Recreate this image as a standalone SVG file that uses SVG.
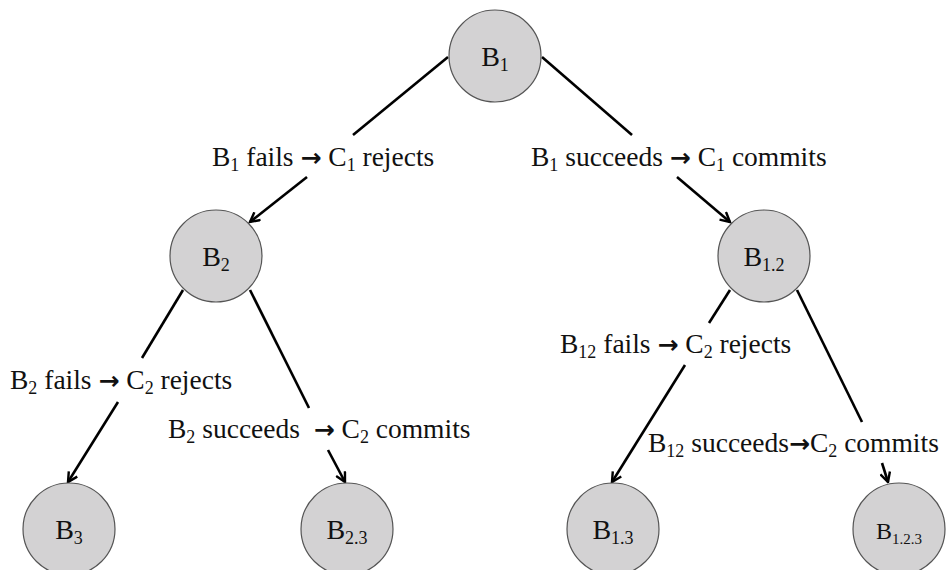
<svg xmlns="http://www.w3.org/2000/svg" width="947" height="570" viewBox="0 0 947 570">
  <style>
    .node circle { fill: #d3d2d3; stroke: #555; stroke-width: 1.2; }
    .node text { font-family: "Liberation Serif", "Times New Roman", serif; font-size: 28px; fill: #111; text-anchor: middle; }
    .node .sub { font-size: 18px; }
    .edge { stroke: #000; stroke-width: 2.6; fill: none; }
    .lbl { font-family: "Liberation Serif", "Times New Roman", serif; font-size: 27.5px; fill: #111; }
    .lbl .sub { font-size: 18px; }
    .arr { font-family: "DejaVu Sans", sans-serif; font-weight: bold; font-size: 25px; }
  </style>
  <defs>
    <marker id="head" viewBox="0 0 12 12" refX="10.5" refY="6" markerWidth="12" markerHeight="12" markerUnits="userSpaceOnUse" orient="auto">
      <path d="M1,1 L10.5,6 L1,11" fill="none" stroke="#000" stroke-width="2.4" stroke-linejoin="miter"/>
    </marker>
  </defs>

  <!-- connectors: each branch is split around its label -->
  <g id="connectors">
    <line class="edge" x1="448" y1="57" x2="353" y2="135"/>
    <line class="edge" x1="307" y1="177" x2="250" y2="222" marker-end="url(#head)"/>
    <line class="edge" x1="542" y1="57" x2="632" y2="135"/>
    <line class="edge" x1="677" y1="177" x2="730" y2="222" marker-end="url(#head)"/>

    <line class="edge" x1="183" y1="290" x2="142" y2="358"/>
    <line class="edge" x1="118" y1="402" x2="68" y2="482" marker-end="url(#head)"/>
    <line class="edge" x1="250" y1="290" x2="309" y2="408"/>
    <line class="edge" x1="328" y1="450" x2="345" y2="482" marker-end="url(#head)"/>

    <line class="edge" x1="730" y1="290" x2="709" y2="323"/>
    <line class="edge" x1="685" y1="365" x2="612" y2="482" marker-end="url(#head)"/>
    <line class="edge" x1="797" y1="290" x2="862" y2="422"/>
    <line class="edge" x1="882" y1="463" x2="888" y2="482" marker-end="url(#head)"/>
  </g>

  <!-- branch labels -->
  <g id="labels">
    <text class="lbl" x="212" y="166">B<tspan class="sub" dy="5">1</tspan><tspan dy="-5"> fails </tspan><tspan class="arr">→</tspan> C<tspan class="sub" dy="5">1</tspan><tspan dy="-5"> rejects</tspan></text>
    <text class="lbl" x="531" y="166">B<tspan class="sub" dy="5">1</tspan><tspan dy="-5"> succeeds </tspan><tspan class="arr">→</tspan> C<tspan class="sub" dy="5">1</tspan><tspan dy="-5"> commits</tspan></text>
    <text class="lbl" x="10" y="389">B<tspan class="sub" dy="5">2</tspan><tspan dy="-5"> fails </tspan><tspan class="arr">→</tspan> C<tspan class="sub" dy="5">2</tspan><tspan dy="-5"> rejects</tspan></text>
    <text class="lbl" x="168" y="438" xml:space="preserve">B<tspan class="sub" dy="5">2</tspan><tspan dy="-5"> succeeds  </tspan><tspan class="arr">→</tspan> C<tspan class="sub" dy="5">2</tspan><tspan dy="-5"> commits</tspan></text>
    <text class="lbl" x="560" y="353">B<tspan class="sub" dy="5">12</tspan><tspan dy="-5"> fails </tspan><tspan class="arr">→</tspan> C<tspan class="sub" dy="5">2</tspan><tspan dy="-5"> rejects</tspan></text>
    <text class="lbl" x="648" y="452">B<tspan class="sub" dy="5">12</tspan><tspan dy="-5"> succeeds</tspan><tspan class="arr">→</tspan>C<tspan class="sub" dy="5">2</tspan><tspan dy="-5"> commits</tspan></text>
  </g>

  <!-- nodes -->
  <g id="node-b1" class="node">
    <circle cx="495" cy="56" r="46"/>
    <text x="495" y="66">B<tspan class="sub" dy="5">1</tspan></text>
  </g>
  <g id="node-b2" class="node">
    <circle cx="216" cy="256" r="46"/>
    <text x="216" y="266">B<tspan class="sub" dy="5">2</tspan></text>
  </g>
  <g id="node-b12" class="node">
    <circle cx="764" cy="256" r="46"/>
    <text x="764" y="266">B<tspan class="sub" dy="5">1.2</tspan></text>
  </g>
  <g id="node-b3" class="node">
    <circle cx="69" cy="529" r="46"/>
    <text x="69" y="539">B<tspan class="sub" dy="5">3</tspan></text>
  </g>
  <g id="node-b23" class="node">
    <circle cx="347" cy="529" r="46"/>
    <text x="347" y="539">B<tspan class="sub" dy="5">2.3</tspan></text>
  </g>
  <g id="node-b13" class="node">
    <circle cx="613" cy="529" r="46"/>
    <text x="613" y="539">B<tspan class="sub" dy="5">1.3</tspan></text>
  </g>
  <g id="node-b123" class="node">
    <circle cx="899" cy="529" r="46"/>
    <text x="899" y="539" style="font-size:24px">B<tspan class="sub" dy="5" style="font-size:15px">1.2.3</tspan></text>
  </g>
</svg>
